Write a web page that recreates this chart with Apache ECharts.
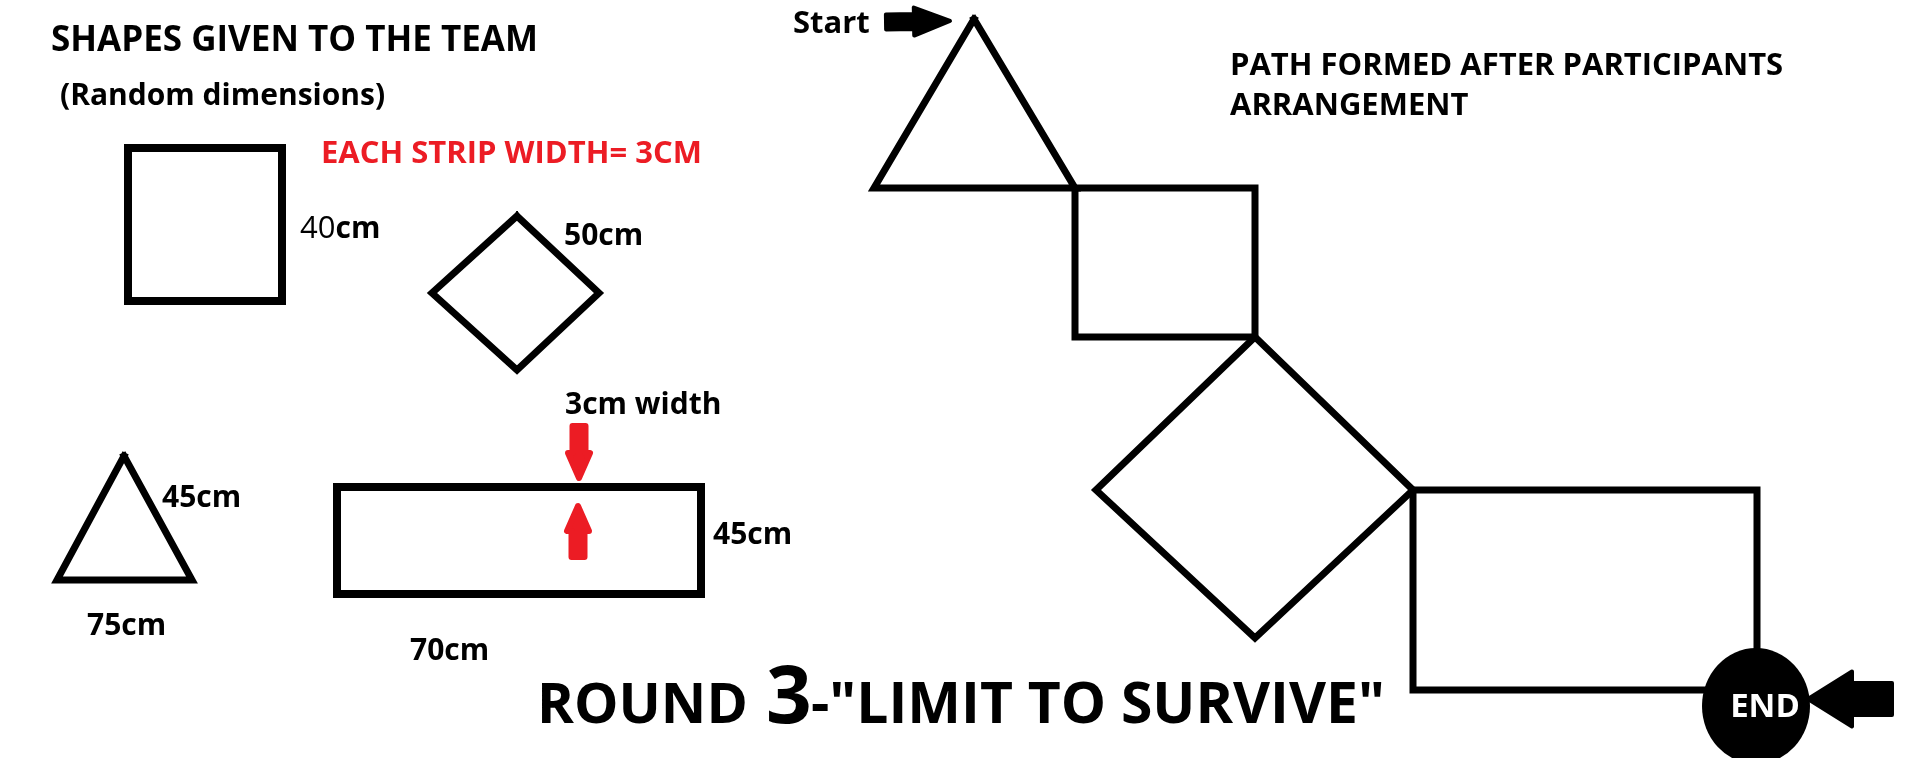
<!DOCTYPE html>
<html>
<head>
<meta charset="utf-8">
<script src="https://cdn.jsdelivr.net/npm/echarts@6/dist/echarts.min.js"></script>
<style>
html, body { margin: 0; padding: 0; background: #fff; }
#main { width: 1906px; height: 758px; }
</style>
</head>
<body>
<div id="main"></div>
<script>
// sketch is laid out in pixel units, y grows downward
// shapes given to the team
var givenSquare   = [[128,148],[282,148],[282,301],[128,301],[128,148]];
var givenDiamond  = [[517,216],[599,293],[517,370],[432,293],[517,216]];
var givenTriangle = [[124,456],[192,580],[57,580],[124,456]];
var givenStrip    = [[337,487],[701,487],[701,594],[337,594],[337,487]];

// path formed after the arrangement
var pathTriangle = [[974,19],[1075,188],[874,188],[974,19]];
var pathSquare   = [[1075,188],[1255,188],[1255,337],[1075,337],[1075,188]];
var pathDiamond  = [[1255,337],[1413,490],[1255,638],[1096,490],[1255,337]];
var pathRect     = [[1413,490],[1757,490],[1757,690],[1413,690],[1413,490]];
var endPoint     = [[1756,706]];

// arrows as [tail, tip]
var startArrow = [[[886,22],[950,21]]];
var endArrow   = [[[1892,699],[1808,699]]];
var redArrows  = [[[579,426],[579,478]], [[578,557],[578,506]]];

var FONT = '"Open Sans", sans-serif';

function outline(name, pts, w) {
	return {
		name: name,
		type: 'line',
		data: pts,
		symbol: 'none',
		silent: true,
		animation: false,
		lineStyle: { color: '#000', width: w, join: 'miter', cap: 'square' }
	};
}

function arrow(name, list, color, shaft, head, headLen, edge) {
	return {
		name: name,
		type: 'custom',
		animation: false,
		silent: true,
		data: list.map(function (a) { return [a[0][0], a[0][1], a[1][0], a[1][1]]; }),
		encode: { x: [0, 2], y: [1, 3] },
		renderItem: function (params, api) {
			var t = api.coord([api.value(0), api.value(1)]);
			var p = api.coord([api.value(2), api.value(3)]);
			var dx = p[0] - t[0], dy = p[1] - t[1];
			var len = Math.sqrt(dx * dx + dy * dy);
			var ux = dx / len, uy = dy / len;
			var nx = -uy, ny = ux;
			var b = [p[0] - ux * headLen, p[1] - uy * headLen];
			var s = shaft / 2, h = head / 2;
			var pts = [
				[t[0] + nx * s, t[1] + ny * s],
				[b[0] + nx * s, b[1] + ny * s],
				[b[0] + nx * h, b[1] + ny * h],
				p,
				[b[0] - nx * h, b[1] - ny * h],
				[b[0] - nx * s, b[1] - ny * s],
				[t[0] - nx * s, t[1] - ny * s]
			];
			return {
				type: 'polygon',
				shape: { points: pts },
				style: { fill: color, stroke: color, lineWidth: edge, lineJoin: 'round' }
			};
		}
	};
}

function txt(str, x, y, size, opts) {
	opts = opts || {};
	return {
		type: 'text',
		x: x,
		y: y,
		silent: true,
		style: {
			text: str,
			fill: opts.color || '#000',
			font: (opts.weight || 'bold') + ' ' + size + 'px ' + FONT,
			textAlign: 'left',
			textVerticalAlign: 'middle'
		}
	};
}

var chart = echarts.init(document.getElementById('main'));
var option = {
	backgroundColor: '#fff',
	animation: false,
	grid: { left: 0, right: 0, top: 0, bottom: 0 },
	xAxis: { type: 'value', min: 0, max: 1906, show: false },
	yAxis: { type: 'value', min: 0, max: 758, inverse: true, show: false },
	series: [
		outline('square', givenSquare, 8),
		outline('diamond', givenDiamond, 7),
		outline('triangle', givenTriangle, 7),
		outline('strip', givenStrip, 8),
		outline('path triangle', pathTriangle, 7),
		outline('path square', pathSquare, 7),
		outline('path diamond', pathDiamond, 7),
		outline('path rect', pathRect, 7),
		arrow('start', startArrow, '#000', 15, 28, 36, 4),
		arrow('end arrow', endArrow, '#000', 32, 55, 44, 4),
		arrow('strip width', redArrows, '#ec1c24', 13, 22, 25, 6),
		{
			name: 'end',
			type: 'scatter',
			data: endPoint,
			symbol: 'circle',
			symbolSize: [108, 116],
			silent: true,
			z: 3,
			itemStyle: { color: '#000', opacity: 1 },
			label: {
				show: true,
				position: 'inside',
				offset: [9, 2],
				formatter: 'END',
				color: '#fff',
				fontFamily: FONT,
				fontWeight: 'bold',
				fontSize: 33
			}
		}
	],
	graphic: [
		txt('SHAPES GIVEN TO THE TEAM', 51, 41, 35),
		txt('(Random dimensions)', 60, 96, 30),
		txt('EACH STRIP WIDTH= 3CM', 321, 154, 31, { color: '#ec1c24' }),
		{
			type: 'text',
			x: 300,
			y: 229,
			silent: true,
			style: {
				text: '{a|40}{b|cm}',
				textVerticalAlign: 'middle',
				rich: {
					a: { fontFamily: FONT, fontSize: 31, fontWeight: 'normal', fill: '#000' },
					b: { fontFamily: FONT, fontSize: 30, fontWeight: 'bold', fill: '#000' }
				}
			}
		},
		txt('50cm', 564, 236, 30),
		txt('3cm width', 565, 405, 30),
		txt('45cm', 162, 498, 30),
		txt('75cm', 87, 626, 30),
		txt('45cm', 713, 535, 30),
		txt('70cm', 410, 651, 30),
		txt('ROUND', 537, 707, 56),
		txt('3', 766, 700, 80),
		txt('-"LIMIT TO SURVIVE"', 811, 707, 57),
		txt('PATH FORMED AFTER PARTICIPANTS', 1230, 66, 31),
		txt('ARRANGEMENT', 1230, 106, 31),
		txt('Start', 793, 24, 31)
	]
};
chart.setOption(option);
</script>
</body>
</html>
